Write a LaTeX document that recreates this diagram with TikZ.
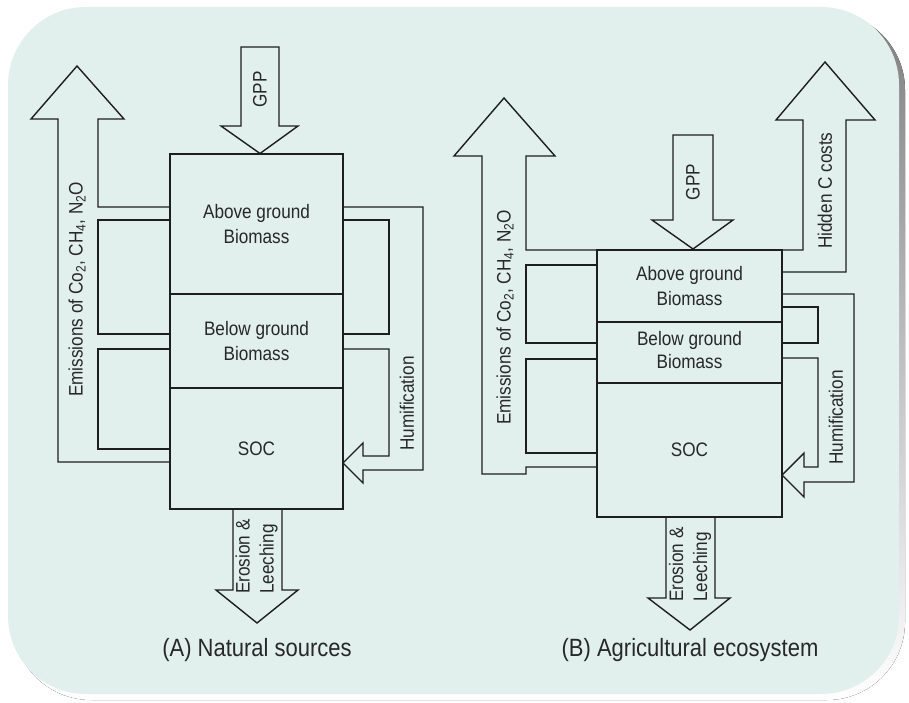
\documentclass[tikz,border=0pt]{standalone}
\usepackage{fontspec}
\setmainfont[FakeStretch=0.88]{Liberation Sans}
\usetikzlibrary{calc}
\definecolor{panel}{RGB}{225,240,237}
\definecolor{shade}{RGB}{207,208,210}
\definecolor{ink}{RGB}{30,30,30}
\definecolor{txt}{RGB}{40,40,40}
\tikzset{
  outline/.style={draw=ink, line width=1.4pt, line join=miter},
  cell/.style={outline, rectangle, inner sep=0pt, align=center, text=txt,
    font=\fontsize{19.5}{25}\selectfont},
  vlabel/.style={rotate=90, anchor=west, inner sep=0pt, text=txt, align=left,
    font=\fontsize{19.5}{24}\selectfont},
  caption/.style={text=txt, inner sep=0pt, font=\fontsize{25}{30}\selectfont}
}
\begin{document}
\begin{tikzpicture}[x=1pt,y=-1pt]
\useasboundingbox (0,0) rectangle (909,703);
% panel and its shadow
\fill[shade, rounded corners=78pt] (13,12) rectangle (905,700);
\fill[panel, rounded corners=78pt] (8,7) rectangle (899,694);

% ---------------- (A) Natural sources ----------------
\node[cell, minimum width=173pt, minimum height=140pt] (abA) at (256.5,224) {Above ground\\Biomass};
\node[cell, minimum width=173pt, minimum height=94pt] (beA) at (256.5,341) {Below ground\\Biomass};
\node[cell, minimum width=173pt, minimum height=121pt] (socA) at (256.5,448.5) {SOC};

% GPP arrow
\draw[outline] (241,47) -- (279,47) -- (279,126) -- (298,126) -- (260,153.5) -- (221,126) -- (241,126) -- cycle;
\node[vlabel, anchor=center] (gppA) at (260,89.5) {GPP};
% emissions arrow
\draw[outline] (170,462) -- (58,462) -- (58,119) -- (31,119) -- (77,66) -- (124,119) -- (98,119) -- (98,207) -- (170,207);
\draw[outline] (170,220) -- (98,220) -- (98,334) -- (170,334);
\draw[outline] (170,349) -- (98,349) -- (98,449) -- (170,449);
\node[vlabel] (emA) at (77,397) {Emissions of Co\textsubscript{2}, CH\textsubscript{4}, N\textsubscript{2}O};
% humification arrow
\draw[outline] (343,207) -- (423,207) -- (423,470) -- (363,470) -- (363,483) -- (343,463) -- (363,443) -- (363,456) -- (389,456) -- (389,349) -- (343,349);
\draw[outline] (343,220) -- (389,220) -- (389,334) -- (343,334);
\node[vlabel] (huA) at (407,451) {Humification};
% erosion arrow
\draw[outline] (233,509) -- (233,590) -- (216,590) -- (257,623) -- (298,590) -- (282,590) -- (282,509);
\node[vlabel] (erA) at (256.5,594) {Erosion \&\\Leeching};
\node[caption] (capA) at (257,650) {(A) Natural sources};

% ---------------- (B) Agricultural ecosystem ----------------
\node[cell, minimum width=185pt, minimum height=72pt] (abB) at (689.5,286) {Above ground\\Biomass};
\node[cell, minimum width=185pt, minimum height=61pt] (beB) at (689.5,352.5) {\raisebox{5pt}{\shortstack{Below ground\\[2pt]Biomass}}};
\node[cell, minimum width=185pt, minimum height=134pt] (socB) at (689.5,450) {SOC};

% GPP arrow
\draw[outline] (673,135) -- (713,135) -- (713,220) -- (733,220) -- (693,249) -- (652,220) -- (673,220) -- cycle;
\node[vlabel, anchor=center] (gppB) at (693,182) {GPP};
% emissions arrow
\draw[outline] (597,467) -- (526,467) -- (526,474) -- (482,474) -- (482,156) -- (454,156) -- (504,98) -- (555,156) -- (526,156) -- (526,250) -- (597,250);
\draw[outline] (597,265) -- (526,265) -- (526,343) -- (597,343);
\draw[outline] (597,359) -- (526,359) -- (526,453) -- (597,453);
\node[vlabel] (emB) at (505,425) {Emissions of Co\textsubscript{2}, CH\textsubscript{4}, N\textsubscript{2}O};
% hidden C costs arrow
\draw[outline] (782,250) -- (803,250) -- (803,120) -- (776,120) -- (825,62) -- (875,120) -- (846,120) -- (846,272) -- (782,272);
\node[vlabel] (hcB) at (825,249) {Hidden C costs};
% humification arrow
\draw[outline] (782,294) -- (854,294) -- (854,482) -- (804,482) -- (804,497) -- (782,475) -- (804,453) -- (804,467) -- (818,467) -- (818,358) -- (782,358);
\draw[outline] (782,307) -- (818,307) -- (818,343) -- (782,343);
\node[vlabel] (huB) at (836,465) {Humification};
% erosion arrow
\draw[outline] (666,517) -- (666,598) -- (648,598) -- (690,630) -- (730,598) -- (715,598) -- (715,517);
\node[vlabel] (erB) at (690,602) {Erosion \&\\Leeching};
\node[caption] (capB) at (690,650) {(B) Agricultural ecosystem};
\end{tikzpicture}
\end{document}
